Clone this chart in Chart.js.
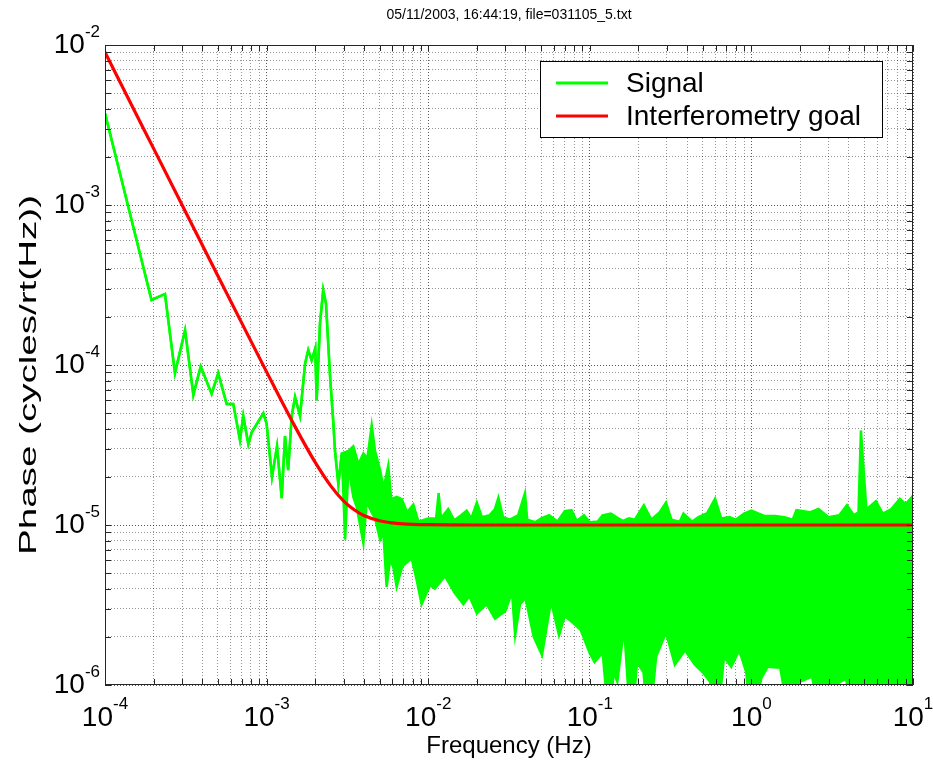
<!DOCTYPE html>
<html>
<head>
<meta charset="utf-8">
<title>Phase spectrum</title>
<script src="https://cdn.jsdelivr.net/npm/chart.js@4.4.1/dist/chart.umd.min.js"></script>
<style>
  html, body { margin: 0; padding: 0; background: #fff; }
  #wrap { width: 933px; height: 764px; }
</style>
</head>
<body>
<div id="wrap"><canvas id="chart" width="933" height="764"></canvas></div>
<script>
// --- Texts ---
const chartTitle = '05/11/2003, 16:44:19, file=031105_5.txt';
const xAxisTitle = 'Frequency (Hz)';
const yAxisTitle = 'Phase (cycles/rt(Hz))';
const legendLabels = ['Signal', 'Interferometry goal'];

// --- Axes (log-log) ---
const xDecades = [1e-4, 1e-3, 1e-2, 1e-1, 1, 10];
const xTickExp = ['-4', '-3', '-2', '-1', '0', '1'];
const yDecades = [1e-6, 1e-5, 1e-4, 1e-3, 1e-2];
const yTickExp = ['-6', '-5', '-4', '-3', '-2'];

// --- Signal, low frequencies: a single trace ---
const signalFreq = [1.0e-4, 1.94e-4, 2.35e-4, 2.71e-4, 3.13e-4, 3.52e-4, 3.91e-4, 4.57e-4, 5.02e-4, 5.66e-4,
  6.22e-4, 6.84e-4, 7.17e-4, 7.71e-4, 8.09e-4, 9.55e-4, 1.0e-3, 1.08e-3, 1.16e-3, 1.24e-3,
  1.30e-3, 1.36e-3, 1.43e-3, 1.50e-3, 1.61e-3, 1.73e-3, 1.81e-3, 1.90e-3, 2.0e-3, 2.04e-3,
  2.14e-3, 2.24e-3, 2.33e-3, 2.47e-3, 2.59e-3, 2.65e-3, 2.78e-3, 2.92e-3];
const signalValue = [3.74e-3, 2.55e-4, 2.78e-4, 8.9e-5, 1.65e-4, 6.5e-5, 9.8e-5, 6.6e-5, 8.9e-5, 5.7e-5,
  5.7e-5, 3.4e-5, 4.8e-5, 3.2e-5, 3.8e-5, 5.0e-5, 4.3e-5, 2.0e-5, 3.1e-5, 1.47e-5,
  3.6e-5, 2.2e-5, 4.8e-5, 6.3e-5, 4.8e-5, 1.02e-4, 1.24e-4, 1.07e-4, 1.27e-4, 6.0e-5,
  1.82e-4, 2.94e-4, 2.43e-4, 8.5e-5, 4.3e-5, 2.9e-5, 1.8e-5, 2.8e-5];

// --- Signal, above ~3 mHz: dense trace, upper edge ---
const signalTopFreq = [3.21e-3, 3.44e-3, 3.7e-3, 3.97e-3, 4.2e-3, 4.47e-3, 4.69e-3, 5.04e-3, 5.3e-3, 5.66e-3,
  5.9e-3, 6.4e-3, 6.86e-3, 7.4e-3, 8.09e-3, 8.7e-3, 1.0e-2, 1.12e-2, 1.16e-2, 1.2e-2,
  1.33e-2, 1.45e-2, 1.6e-2, 1.73e-2, 1.85e-2, 2.0e-2, 2.15e-2, 2.4e-2, 2.59e-2, 2.72e-2,
  2.9e-2, 3.2e-2, 3.6e-2, 3.97e-2, 4.1e-2, 4.6e-2, 5.0e-2, 5.6e-2, 6.3e-2, 7.0e-2,
  7.7e-2, 8.3e-2, 9.2e-2, 0.1, 0.112, 0.12, 0.135, 0.15, 0.16, 0.175,
  0.19, 0.216, 0.24, 0.27, 0.296, 0.32, 0.36, 0.38, 0.43, 0.47,
  0.53, 0.596, 0.65, 0.73, 0.8, 0.9, 1.0, 1.2, 1.4, 1.6,
  1.8, 1.9, 2.3, 2.6, 3.0, 3.5, 3.9, 4.3, 4.6, 4.76,
  4.95, 5.15, 5.9, 6.5, 7.3, 8.3, 9.0, 10];
const signalTop = [2.9e-5, 3.1e-5, 2.4e-5, 2.8e-5, 2.6e-5, 4.2e-5, 2.9e-5, 2.2e-5, 1.7e-5, 2.34e-5,
  1.45e-5, 1.5e-5, 1.45e-5, 1.2e-5, 1.34e-5, 1.05e-5, 1.1e-5, 1.1e-5, 1.58e-5, 1.1e-5,
  1.26e-5, 1.07e-5, 1.15e-5, 1.23e-5, 1.1e-5, 1.38e-5, 1.12e-5, 1.15e-5, 1.26e-5, 1.48e-5,
  1.12e-5, 1.08e-5, 1.15e-5, 1.58e-5, 1.08e-5, 1.04e-5, 1.1e-5, 1.15e-5, 1.05e-5, 1.22e-5,
  1.24e-5, 1.06e-5, 1.15e-5, 1.04e-5, 1.05e-5, 1.15e-5, 1.18e-5, 1.1e-5, 1.06e-5, 1.1e-5,
  1.08e-5, 1.33e-5, 1.08e-5, 1.2e-5, 1.38e-5, 1.08e-5, 1.05e-5, 1.18e-5, 1.05e-5, 1.12e-5,
  1.18e-5, 1.46e-5, 1.1e-5, 1.12e-5, 1.08e-5, 1.18e-5, 1.23e-5, 1.14e-5, 1.14e-5, 1.12e-5,
  1.08e-5, 1.24e-5, 1.2e-5, 1.26e-5, 1.12e-5, 1.15e-5, 1.33e-5, 1.15e-5, 1.2e-5, 3.9e-5,
  2.2e-5, 1.25e-5, 1.41e-5, 1.18e-5, 1.25e-5, 1.46e-5, 1.35e-5, 1.52e-5];

// --- Signal, above ~3 mHz: lower edge (values under 1e-6 run off the axis) ---
const signalBottomFreq = [3.06e-3, 3.21e-3, 3.44e-3, 3.61e-3, 3.97e-3, 4.16e-3, 4.47e-3, 4.69e-3, 5.04e-3, 5.28e-3,
  5.53e-3, 5.8e-3, 6.08e-3, 6.38e-3, 6.9e-3, 7.9e-3, 8.5e-3, 9.1e-3, 1.026e-2, 1.1e-2,
  1.27e-2, 1.45e-2, 1.65e-2, 1.8e-2, 2.0e-2, 2.3e-2, 2.59e-2, 3.0e-2, 3.3e-2, 3.45e-2,
  3.7e-2, 4.0e-2, 4.5e-2, 5.06e-2, 5.75e-2, 6.45e-2, 7.0e-2, 7.87e-2, 8.8e-2, 0.1,
  0.107, 0.12, 0.133, 0.14, 0.148, 0.163, 0.18, 0.196, 0.215, 0.232,
  0.257, 0.296, 0.336, 0.388, 0.447, 0.5, 0.555, 0.61, 0.676, 0.75,
  0.84, 0.93, 1.0, 1.15, 1.26, 1.51, 1.76, 2.0, 2.37, 2.8,
  3.3, 3.85, 4.4, 4.98, 5.8, 6.6, 7.5, 8.5, 10];
const signalBottom = [8.1e-6, 2.3e-5, 1.5e-5, 1.3e-5, 7.7e-6, 1.4e-5, 1.2e-5, 1.1e-5, 8.1e-6, 9.0e-6,
  4.1e-6, 6.0e-6, 5.5e-6, 4.1e-6, 5.5e-6, 6.2e-6, 4.5e-6, 3.2e-6, 4.2e-6, 4.0e-6,
  4.8e-6, 3.8e-6, 3.2e-6, 3.6e-6, 2.8e-6, 3.2e-6, 2.6e-6, 2.9e-6, 3.8e-6, 2.05e-6,
  3.2e-6, 3.5e-6, 2.0e-6, 1.54e-6, 3.35e-6, 2.05e-6, 2.7e-6, 2.45e-6, 2.2e-6, 1.58e-6,
  1.39e-6, 1.6e-6, 5e-7, 1.2e-6, 1.05e-6, 2.3e-6, 5e-7, 1.39e-6, 1.2e-6, 5e-7,
  1.5e-6, 2.13e-6, 1.34e-6, 1.65e-6, 1.34e-6, 1.2e-6, 1.05e-6, 5e-7, 1.5e-6, 1.3e-6,
  1.65e-6, 1.2e-6, 5e-7, 1.1e-6, 1.3e-6, 1.28e-6, 5e-7, 1.05e-6, 1.13e-6, 5e-7,
  1.0e-6, 1.1e-6, 5e-7, 1.15e-6, 5e-7, 1.05e-6, 5e-7, 1.1e-6, 5e-7];

// --- Interferometry goal ---
const goalFreq = [1.0e-4, 1.5e-4, 2.0e-4, 3.0e-4, 5.0e-4, 7.0e-4, 1.0e-3, 1.5e-3, 2.0e-3, 2.5e-3,
  3.0e-3, 3.5e-3, 4.0e-3, 5.0e-3, 6.0e-3, 7.0e-3, 8.0e-3, 1.0e-2, 2.0e-2, 10];
const goalValue = [9.0e-3, 4.0e-3, 2.25e-3, 1.0e-3, 3.6e-4, 1.84e-4, 9.06e-5, 4.12e-5, 2.46e-5, 1.75e-5,
  1.41e-5, 1.24e-5, 1.147e-5, 1.063e-5, 1.031e-5, 1.017e-5, 1.01e-5, 1.004e-5, 1.0e-5, 1.0e-5];

const FONT = "'Liberation Sans', Arial, Helvetica, sans-serif";
const GREEN = '#00ff00';
const RED = '#ff0000';

function toPoints(xs, ys) {
    return xs.map((x, i) => ({ x: x, y: ys[i] }));
}

// 1..9 x each decade, decade values flagged major
function logTicks(decades) {
    const ticks = [];
    decades.forEach((d, i) => {
        ticks.push({ value: d, major: true });
        if (i < decades.length - 1) {
            for (let k = 2; k <= 9; k++) ticks.push({ value: d * k, major: false });
        }
    });
    return ticks;
}

const upperPoints = toPoints(signalFreq, signalValue).concat(toPoints(signalTopFreq, signalTop));
const lowerPoints = toPoints(signalFreq, signalValue).concat(toPoints(signalBottomFreq, signalBottom));
const goalPoints = toPoints(goalFreq, goalValue);

// --- MATLAB-like box: inward ticks, frame, labels, legend ---
const matlabAxes = {
    id: 'matlabAxes',
    afterDatasetsDraw(chart) {
        const { ctx, chartArea: a, scales: { x, y } } = chart;
        const len = 6;
        ctx.save();
        ctx.strokeStyle = '#262626';
        ctx.lineWidth = 1;
        ctx.beginPath();
        x.ticks.forEach(t => {
            const px = Math.round(x.getPixelForValue(t.value)) + 0.5;
            ctx.moveTo(px, a.top); ctx.lineTo(px, a.top + len);
            ctx.moveTo(px, a.bottom); ctx.lineTo(px, a.bottom - len);
        });
        y.ticks.forEach(t => {
            const py = Math.round(y.getPixelForValue(t.value)) + 0.5;
            ctx.moveTo(a.left, py); ctx.lineTo(a.left + len, py);
            ctx.moveTo(a.right, py); ctx.lineTo(a.right - len, py);
        });
        ctx.stroke();
        ctx.strokeRect(a.left + 0.5, a.top + 0.5, a.right - a.left - 1, a.bottom - a.top - 1);
        ctx.restore();
    },
    afterDraw(chart) {
        const { ctx, chartArea: a, scales: { x, y } } = chart;
        ctx.save();
        ctx.fillStyle = '#000';

        // title
        ctx.font = '14px ' + FONT;
        ctx.textAlign = 'center';
        ctx.textBaseline = 'middle';
        ctx.fillText(chartTitle, (a.left + a.right) / 2, 15);

        // x tick labels 10^n
        const baseFont = '28px ' + FONT;
        const expFont = '17px ' + FONT;
        ctx.textAlign = 'left';
        xDecades.forEach((d, i) => {
            const px = x.getPixelForValue(d);
            ctx.font = baseFont;
            const w10 = ctx.measureText('10').width;
            ctx.font = expFont;
            const we = ctx.measureText(xTickExp[i]).width;
            const x0 = px - (w10 + we) / 2;
            ctx.font = baseFont;
            ctx.fillText('10', x0, a.bottom + 33);
            ctx.font = expFont;
            ctx.fillText(xTickExp[i], x0 + w10, a.bottom + 19);
        });

        // y tick labels
        yDecades.forEach((d, i) => {
            const py = y.getPixelForValue(d);
            ctx.font = expFont;
            const we = ctx.measureText(yTickExp[i]).width;
            const xr = a.left - 5;
            ctx.textAlign = 'right';
            ctx.fillText(yTickExp[i], xr, py - 13);
            ctx.font = baseFont;
            ctx.fillText('10', xr - we, py);
        });

        // axis titles
        ctx.textAlign = 'center';
        ctx.font = '24px ' + FONT;
        ctx.fillText(xAxisTitle, (a.left + a.right) / 2, a.bottom + 61);
        ctx.save();
        ctx.translate(29, (a.top + a.bottom) / 2 + 10);
        ctx.rotate(-Math.PI / 2);
        const wy = ctx.measureText(yAxisTitle).width;
        ctx.scale(360 / wy, 1);
        ctx.fillText(yAxisTitle, 0, 0);
        ctx.restore();

        // legend
        const bx = a.right - 31 - 342, by = a.top + 16, bw = 342, bh = 76;
        ctx.fillStyle = '#fff';
        ctx.fillRect(bx, by, bw, bh);
        ctx.strokeStyle = '#000';
        ctx.lineWidth = 1;
        ctx.strokeRect(bx + 0.5, by + 0.5, bw, bh);
        const colors = [GREEN, RED];
        ctx.font = '28px ' + FONT;
        ctx.textAlign = 'left';
        legendLabels.forEach((label, i) => {
            const ly = by + 22 + i * 33;
            ctx.strokeStyle = colors[i];
            ctx.lineWidth = 3;
            ctx.beginPath();
            ctx.moveTo(bx + 16, ly);
            ctx.lineTo(bx + 68, ly);
            ctx.stroke();
            ctx.fillStyle = '#000';
            ctx.fillText(label, bx + 86, ly + 1);
        });
        ctx.restore();
    }
};

const gridColor = c => (c.tick && c.tick.major) ? 'rgba(0,0,0,0.65)' : 'rgba(0,0,0,0.42)';

new Chart(document.getElementById('chart'), {
    type: 'line',
    data: {
        datasets: [
            { label: legendLabels[0], data: upperPoints, borderColor: GREEN, borderWidth: 2.5,
              pointRadius: 0, fill: false, tension: 0, order: 2, clip: 0 },
            { label: legendLabels[0] + ' (lower edge)', data: lowerPoints, borderColor: GREEN,
              backgroundColor: GREEN, borderWidth: 2.5, pointRadius: 0, fill: 0, tension: 0, order: 1, clip: 0 },
            { label: legendLabels[1], data: goalPoints, borderColor: RED, borderWidth: 3.2,
              pointRadius: 0, fill: false, cubicInterpolationMode: 'monotone', order: 0, clip: 0 }
        ]
    },
    options: {
        responsive: false,
        animation: false,
        layout: { padding: { left: 105, right: 20, top: 45, bottom: 79 } },
        plugins: { legend: { display: false }, title: { display: false }, tooltip: { enabled: false } },
        scales: {
            x: {
                type: 'logarithmic', min: 1e-4, max: 10,
                afterBuildTicks: s => { s.ticks = logTicks(xDecades); },
                ticks: { display: false },
                grid: { color: gridColor, lineWidth: 1, drawTicks: false },
                border: { display: false, dash: [1, 2] }
            },
            y: {
                type: 'logarithmic', min: 1e-6, max: 1e-2,
                afterBuildTicks: s => { s.ticks = logTicks(yDecades); },
                ticks: { display: false },
                grid: { color: gridColor, lineWidth: 1, drawTicks: false },
                border: { display: false, dash: [1, 2] }
            }
        }
    },
    plugins: [matlabAxes]
});
</script>
</body>
</html>
